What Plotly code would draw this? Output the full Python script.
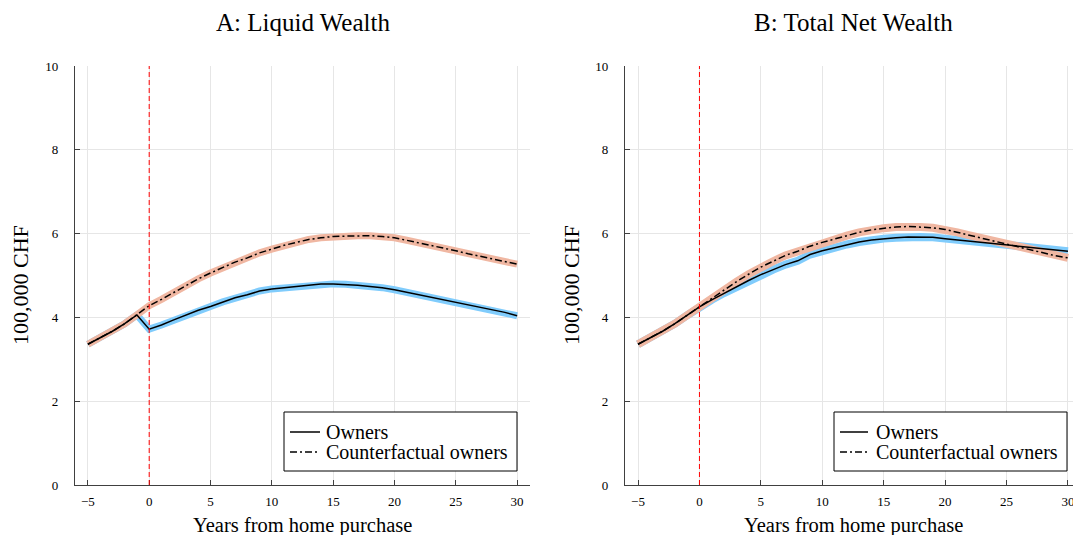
import plotly.graph_objects as go

# Event time relative to home purchase
years = list(range(-5, 31))

# Panel A: liquid wealth (100,000 CHF)
liquid_owners = [3.36, 3.51, 3.67, 3.85, 4.06, 3.72, 3.82, 3.94, 4.06, 4.17,
                 4.26, 4.37, 4.47, 4.54, 4.63, 4.68, 4.71, 4.75, 4.78, 4.80,
                 4.80, 4.79, 4.77, 4.74, 4.71, 4.66, 4.60, 4.54, 4.49, 4.42,
                 4.37, 4.30, 4.24, 4.18, 4.12, 4.04]
liquid_cf = [3.36, 3.51, 3.67, 3.85, 4.06, 4.28, 4.43, 4.60, 4.76, 4.92,
             5.06, 5.19, 5.32, 5.42, 5.54, 5.63, 5.72, 5.79, 5.86, 5.90,
             5.93, 5.94, 5.95, 5.95, 5.93, 5.90, 5.84, 5.78, 5.72, 5.66,
             5.59, 5.52, 5.46, 5.39, 5.33, 5.27]

# Panel B: total net wealth (100,000 CHF)
total_owners = [3.36, 3.51, 3.67, 3.85, 4.05, 4.25, 4.42, 4.58, 4.73, 4.88,
                5.02, 5.14, 5.26, 5.35, 5.50, 5.59, 5.66, 5.74, 5.80, 5.85,
                5.88, 5.90, 5.92, 5.92, 5.91, 5.88, 5.85, 5.82, 5.79, 5.75,
                5.72, 5.69, 5.66, 5.63, 5.60, 5.58]
total_cf = [3.36, 3.51, 3.67, 3.85, 4.05, 4.26, 4.47, 4.66, 4.85, 5.03,
            5.20, 5.34, 5.48, 5.58, 5.70, 5.79, 5.87, 5.95, 6.03, 6.09,
            6.13, 6.16, 6.17, 6.16, 6.14, 6.10, 6.03, 5.96, 5.89, 5.81,
            5.74, 5.67, 5.60, 5.53, 5.47, 5.42]

panel_titles = ["A: Liquid Wealth", "B: Total Net Wealth"]
series_names = ["Owners", "Counterfactual owners"]
x_label = "Years from home purchase"
y_label = "100,000 CHF"
x_ticks = [-5, 0, 5, 10, 15, 20, 25, 30]
y_ticks = [0, 2, 4, 6, 8, 10]

FONT = "Liberation Serif"
BLUE_BAND = "#80CCFC"
ORANGE_BAND = "#F0B7A2"
DASHDOT = "7px,3px,2px,3px"
W, H = 1073, 535


def px(x):
    return x / W


def py(y):
    return 1 - y / H


fig = go.Figure()

panels = [
    ("x", "y", liquid_owners, liquid_cf, 7),
    ("x2", "y2", total_owners, total_cf, 8),
]
for xa, ya, own, cf, bw in panels:
    # shaded bands
    fig.add_trace(go.Scatter(x=years, y=own, xaxis=xa, yaxis=ya, mode="lines",
                             line=dict(color=BLUE_BAND, width=bw),
                             showlegend=False, hoverinfo="skip"))
    fig.add_trace(go.Scatter(x=years, y=cf, xaxis=xa, yaxis=ya, mode="lines",
                             line=dict(color=ORANGE_BAND, width=bw),
                             showlegend=False, hoverinfo="skip"))
    # point estimates
    fig.add_trace(go.Scatter(x=years, y=own, xaxis=xa, yaxis=ya, mode="lines",
                             name=series_names[0], showlegend=False,
                             line=dict(color="black", width=1.5)))
    fig.add_trace(go.Scatter(x=years, y=cf, xaxis=xa, yaxis=ya, mode="lines",
                             name=series_names[1], showlegend=False,
                             line=dict(color="black", width=1.5, dash=DASHDOT)))

axis_common = dict(
    showgrid=True, gridcolor="#E6E6E6", gridwidth=1,
    showline=True, linecolor="#404040", linewidth=1.3,
    ticks="inside", ticklen=5, tickcolor="#404040", tickwidth=1,
    zeroline=False, automargin=False, ticklabeloverflow="allow",
    tickfont=dict(family=FONT, size=13, color="black"),
)
y_dom = [py(485), py(66)]

fig.update_layout(
    width=W, height=H,
    margin=dict(l=0, r=0, t=0, b=0),
    plot_bgcolor="white", paper_bgcolor="white",
    font=dict(family=FONT, color="black"),
    showlegend=False,
    xaxis=dict(domain=[px(75), px(530)], range=[-6.05, 31.05],
               tickvals=x_ticks, anchor="y", ticklabelstandoff=4, **axis_common),
    yaxis=dict(domain=y_dom, range=[0, 10], tickvals=y_ticks,
               anchor="x", ticklabelstandoff=13, **axis_common),
    xaxis2=dict(domain=[px(625), 1.0], range=[-6.06, 30.41],
                tickvals=x_ticks, anchor="y2", ticklabelstandoff=4, **axis_common),
    yaxis2=dict(domain=y_dom, range=[0, 10], tickvals=y_ticks,
                anchor="x2", ticklabelstandoff=13, **axis_common),
)

# vertical marker at the purchase year
for xr, yr in [("x", "y"), ("x2", "y2")]:
    fig.add_shape(type="line", xref=xr, yref=yr, x0=0, x1=0, y0=0, y1=10,
                  line=dict(color="red", width=1, dash="5px,3px"), layer="above")

# legend boxes: (left, right, top, bottom, sample start, sample end, text x)
legend_boxes = [(284, 517, 412, 471, 290, 320, 324),
                (834, 1067, 412, 471, 840, 868, 874)]
entry_y = [432, 452]
for (l, r, t, b, s0, s1, tx) in legend_boxes:
    fig.add_shape(type="rect", xref="paper", yref="paper",
                  x0=px(l), x1=px(r), y0=py(b), y1=py(t),
                  line=dict(color="black", width=1), fillcolor="white",
                  layer="above")
    for k, name in enumerate(series_names):
        fig.add_shape(type="line", xref="paper", yref="paper",
                      x0=px(s0), x1=px(s1), y0=py(entry_y[k]), y1=py(entry_y[k]),
                      line=dict(color="black", width=1.5,
                                dash="solid" if k == 0 else DASHDOT),
                      layer="above")
        fig.add_annotation(text=name, xref="paper", yref="paper",
                           x=px(tx), y=py(entry_y[k]), xanchor="left",
                           yanchor="middle", showarrow=False,
                           font=dict(family=FONT, size=20))

# titles and axis labels
centres = [302.5, 853]
y_title_x = [20, 571]
for i in range(2):
    fig.add_annotation(text=panel_titles[i], xref="paper", yref="paper",
                       x=px(centres[i]), y=py(22), xanchor="center",
                       yanchor="middle", showarrow=False,
                       font=dict(family=FONT, size=25))
    fig.add_annotation(text=x_label, xref="paper", yref="paper",
                       x=px(centres[i]), y=py(525), xanchor="center",
                       yanchor="middle", showarrow=False,
                       font=dict(family=FONT, size=20.5))
    fig.add_annotation(text=y_label, xref="paper", yref="paper",
                       x=px(y_title_x[i]), y=py(285), xanchor="center",
                       yanchor="middle", textangle=-90, showarrow=False,
                       font=dict(family=FONT, size=22))

fig.write_html("out.html")
